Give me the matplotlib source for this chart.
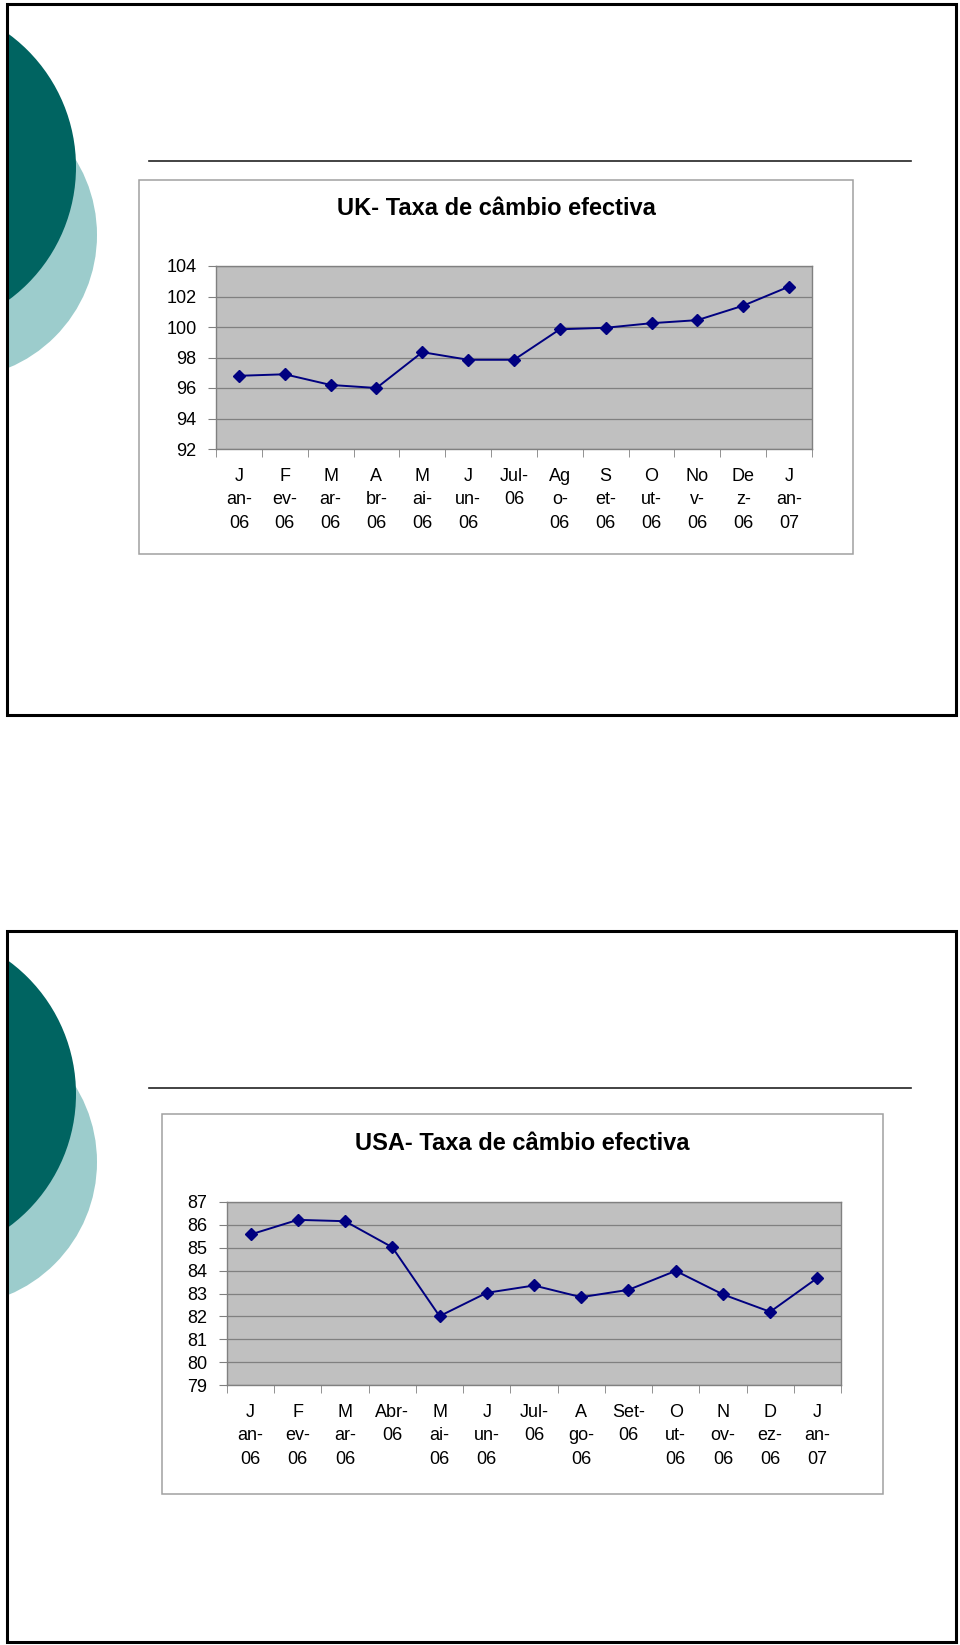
import numpy as np
import matplotlib.pyplot as plt
from matplotlib.patches import Rectangle, Circle

plt.rcParams['font.family'] = ['Liberation Sans', 'DejaVu Sans']

# dados
meses_uk = ['J\nan-\n06', 'F\nev-\n06', 'M\nar-\n06', 'A\nbr-\n06', 'M\nai-\n06', 'J\nun-\n06', 'Jul-\n06',
            'Ag\no-\n06', 'S\net-\n06', 'O\nut-\n06', 'No\nv-\n06', 'De\nz-\n06', 'J\nan-\n07']
taxa_uk = [96.8, 96.9, 96.2, 96.0, 98.35, 97.85, 97.85, 99.85, 99.95, 100.25, 100.45, 101.4, 102.65]

meses_usa = ['J\nan-\n06', 'F\nev-\n06', 'M\nar-\n06', 'Abr-\n06', 'M\nai-\n06', 'J\nun-\n06', 'Jul-\n06',
             'A\ngo-\n06', 'Set-\n06', 'O\nut-\n06', 'N\nov-\n06', 'D\nez-\n06', 'J\nan-\n07']
taxa_usa = [85.58, 86.22, 86.16, 85.02, 82.01, 83.03, 83.35, 82.84, 83.16, 83.99, 82.96, 82.2, 83.68]

W, H = 960, 1645
fig = plt.figure(figsize=(W / 100, H / 100), dpi=100)
bg = fig.add_axes([0, 0, 1, 1])
bg.set_xlim(0, W)
bg.set_ylim(H, 0)
bg.axis('off')


def px_axes(l, t, r, b):
    return fig.add_axes([l / W, 1 - b / H, (r - l) / W, (b - t) / H])


#slide com circulos e moldura
def slide(dy):
    frame = Rectangle((7, 4 + dy), 949, 711, fill=False, ec='black', lw=2.2, zorder=5)
    bg.add_patch(frame)
    for cx, cy, r, c in [(-47, 235, 144, '#9ccccc'), (-89, 167, 165, '#006461')]:
        circ = Circle((cx, cy + dy), r, fc=c, ec='none', zorder=1)
        bg.add_patch(circ)
        circ.set_clip_path(frame)
    bg.plot([149, 911], [161 + dy, 161 + dy], color='#222222', lw=1.2)


def grafico(ax, meses, taxa, ymin, ymax, passo):
    ax.set_facecolor('#c0c0c0')
    x = np.arange(len(taxa))
    ax.plot(x, taxa, color='#000080', lw=1.4, marker='D', ms=6,
            mfc='#000080', mec='#000080', zorder=3)
    ax.set_xlim(-0.5, len(taxa) - 0.5)
    ax.set_ylim(ymin, ymax)
    ax.set_yticks(np.arange(ymin, ymax + passo, passo))
    ax.set_xticks(x)
    ax.set_xticklabels(meses, linespacing=1.5)
    ax.set_xticks(np.arange(-0.5, len(taxa)), minor=True)
    ax.tick_params(axis='x', which='major', length=0, pad=13.5, labelsize=13)
    ax.tick_params(axis='x', which='minor', length=6, color='#808080', direction='out')
    ax.tick_params(axis='y', length=6, pad=8, labelsize=13, color='#808080')
    ax.yaxis.grid(True, color='#808080', lw=0.9)
    ax.set_axisbelow(True)
    for s in ax.spines.values():
        s.set_color('#808080')
        s.set_linewidth(1)


slide(0)
slide(927)

bg.add_patch(Rectangle((139, 180), 714, 374, fc='white', ec='#a0a0a0', lw=1.1, zorder=2))
bg.text(496, 215, 'UK- Taxa de câmbio efectiva', ha='center', va='baseline',
        fontsize=17, fontweight='bold', zorder=3)
ax1 = px_axes(216, 266, 812, 449)
grafico(ax1, meses_uk, taxa_uk, 92, 104, 2)

bg.add_patch(Rectangle((162, 1114), 721, 380, fc='white', ec='#a0a0a0', lw=1.1, zorder=2))
bg.text(522, 1150, 'USA- Taxa de câmbio efectiva', ha='center', va='baseline',
        fontsize=17, fontweight='bold', zorder=3)
ax2 = px_axes(227, 1202, 841, 1385)
grafico(ax2, meses_usa, taxa_usa, 79, 87, 1)

fig.savefig('out.png', dpi=100)
